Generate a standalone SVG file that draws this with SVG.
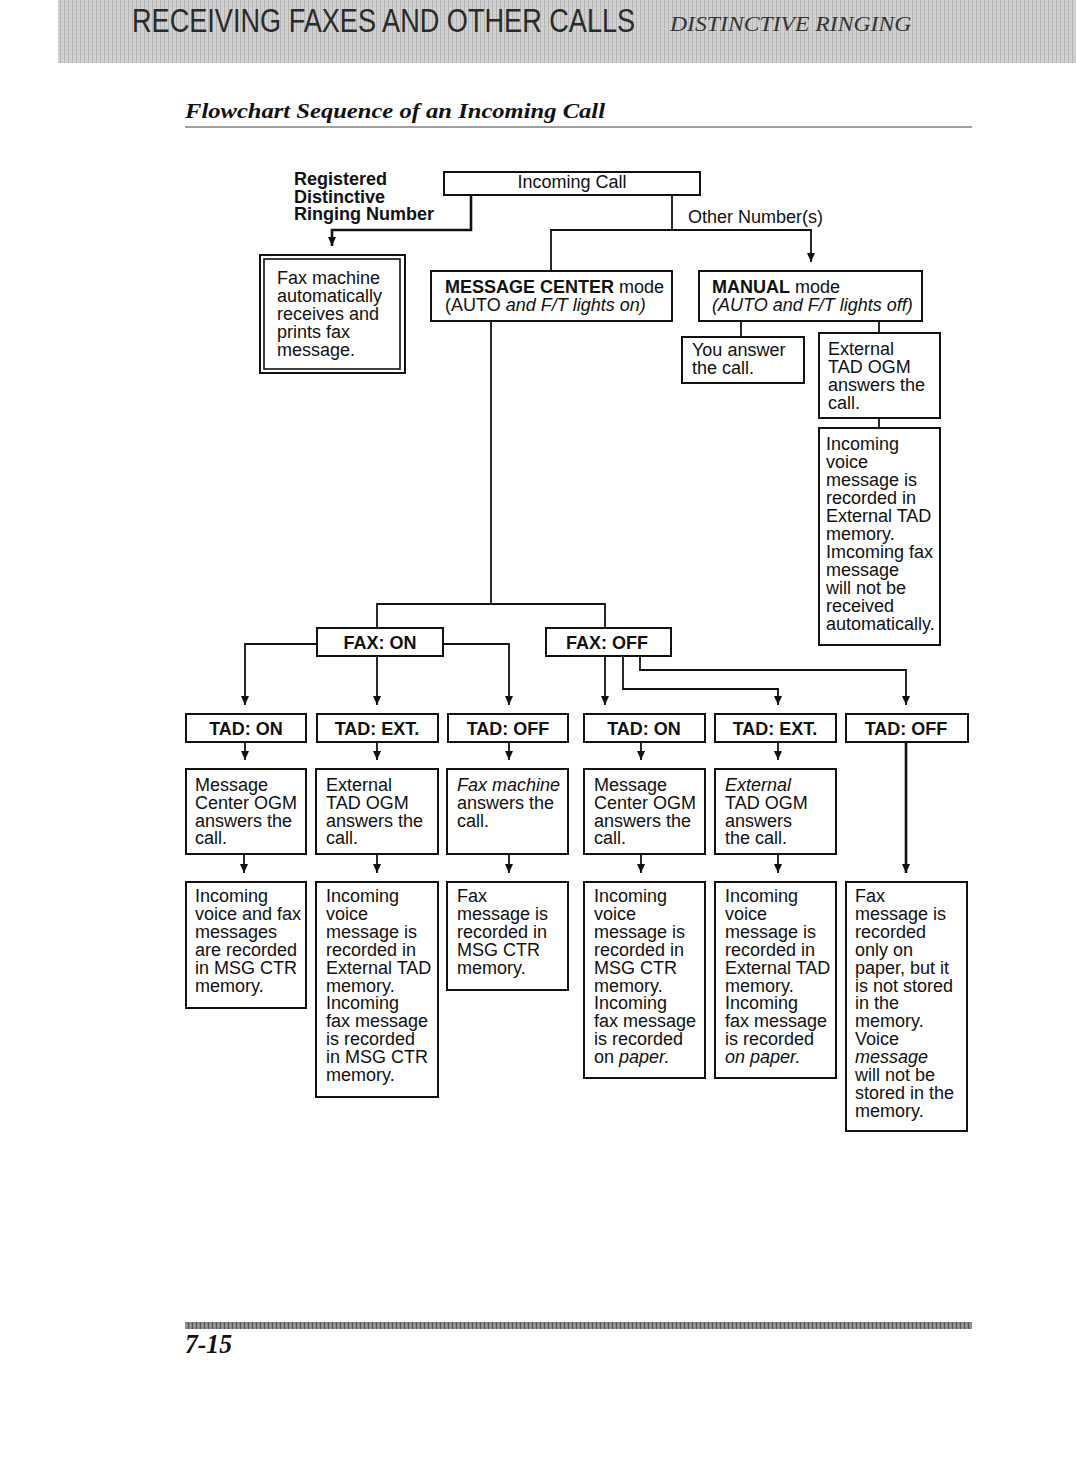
<svg xmlns="http://www.w3.org/2000/svg" width="1076" height="1476" viewBox="0 0 1076 1476">
<defs>
<pattern id="tex" width="4" height="4" patternUnits="userSpaceOnUse">
<rect width="4" height="4" fill="#d2d2d2"/>
<rect x="0" y="0" width="1" height="4" fill="#b4b4b4"/>
<rect x="2" y="2" width="1" height="1" fill="#bcbcbc"/>
</pattern>
<pattern id="tex2" width="4" height="4" patternUnits="userSpaceOnUse">
<rect width="4" height="4" fill="#8a8a8a"/>
<rect x="0" y="0" width="1" height="4" fill="#555"/>
<rect x="2" y="1" width="1" height="1" fill="#bbb"/>
</pattern>
<marker id="arr" markerUnits="userSpaceOnUse" markerWidth="8" markerHeight="9" refX="4" refY="9" orient="0">
<path d="M0,0 L8,0 L4,9 z" fill="#111"/>
</marker>
</defs>
<style>
.box{fill:#fff;stroke:#111;stroke-width:2}
.t{font-family:"Liberation Sans",Arial,sans-serif;font-size:18px;fill:#111}
.b{font-weight:bold}
.c{text-anchor:middle}
.i{font-style:italic}
.conn path{fill:none;stroke:#111;stroke-width:1.8}
.conn .thick{stroke-width:2.6}
</style>

<!-- header -->
<rect x="58" y="0" width="1018" height="63" fill="url(#tex)"/>
<text transform="translate(132,32) scale(0.76,1)" x="0" y="0" font-family="Liberation Sans, Arial, sans-serif" font-size="34" fill="#2a2a2a" textLength="662" lengthAdjust="spacingAndGlyphs">RECEIVING FAXES AND OTHER CALLS</text>
<text transform="translate(670,31) scale(0.85,1)" x="0" y="0" font-family="Liberation Serif, Times New Roman, serif" font-size="21" font-style="italic" fill="#333" textLength="284" lengthAdjust="spacingAndGlyphs">DISTINCTIVE RINGING</text>
<text x="185" y="118" font-family="Liberation Serif, Times New Roman, serif" font-size="22" font-style="italic" font-weight="bold" fill="#111" textLength="420" lengthAdjust="spacingAndGlyphs">Flowchart Sequence of an Incoming Call</text>
<line x1="185" y1="127" x2="972" y2="127" stroke="#444" stroke-width="1.2"/>

<!-- connectors -->
<g id="connectors" class="conn">
<path class="thick" d="M471,196 V230 H332 V246" marker-end="url(#arr)"/>
<path d="M672,196 V230"/>
<path d="M551,271 V230 H811 V262" marker-end="url(#arr)"/>
<path d="M741,321 V337"/>
<path d="M879,321 V333"/>
<path d="M879,418 V428"/>
<path d="M491,321 V604"/>
<path d="M377,628 V604 H605 V628"/>
<path d="M317,644 H245 V705" marker-end="url(#arr)"/>
<path d="M377,656 V705" marker-end="url(#arr)"/>
<path d="M443,644 H509 V705" marker-end="url(#arr)"/>
<path d="M605,656 V705" marker-end="url(#arr)"/>
<path d="M623,656 V689 H778 V705" marker-end="url(#arr)"/>
<path d="M640,656 V670 H906 V705" marker-end="url(#arr)"/>
<path d="M245,742 V760" marker-end="url(#arr)"/>
<path d="M377,742 V760" marker-end="url(#arr)"/>
<path d="M509,742 V760" marker-end="url(#arr)"/>
<path d="M641,742 V760" marker-end="url(#arr)"/>
<path d="M778,742 V760" marker-end="url(#arr)"/>
<path d="M244,854 V873" marker-end="url(#arr)"/>
<path d="M377,854 V873" marker-end="url(#arr)"/>
<path d="M509,854 V873" marker-end="url(#arr)"/>
<path d="M641,854 V873" marker-end="url(#arr)"/>
<path d="M778,854 V873" marker-end="url(#arr)"/>
<path class="thick" d="M906,742 V873" marker-end="url(#arr)"/>
</g>

<!-- nodes -->
<g id="n-registered">
<text class="t b" x="294" y="185">Registered<tspan x="294" dy="17.6">Distinctive</tspan><tspan x="294" dy="17.6">Ringing Number</tspan></text>
</g>
<g id="n-incoming">
<rect class="box" x="444" y="172" width="256" height="23"/>
<text class="t c" x="572" y="188">Incoming Call</text>
</g>
<g id="n-other">
<text class="t" x="688" y="223">Other Number(s)</text>
</g>
<g id="n-faxauto">
<rect class="box" x="260" y="255" width="145" height="118"/>
<rect x="264" y="259" width="136" height="110" fill="none" stroke="#111" stroke-width="1.6"/>
<text class="t" x="277" y="284">Fax machine<tspan x="277" dy="18">automatically</tspan><tspan x="277" dy="18">receives and</tspan><tspan x="277" dy="18">prints fax</tspan><tspan x="277" dy="18">message.</tspan></text>
</g>
<g id="n-msgcenter">
<rect class="box" x="431" y="271" width="241" height="50"/>
<text class="t" x="445" y="293"><tspan class="b">MESSAGE CENTER</tspan> mode</text>
<text class="t" x="445" y="311">(AUTO <tspan class="i">and F/T lights on)</tspan></text>
</g>
<g id="n-manual">
<rect class="box" x="699" y="271" width="223" height="50"/>
<text class="t" x="712" y="293"><tspan class="b">MANUAL</tspan> mode</text>
<text class="t i" x="712" y="311">(AUTO and F/T lights off)</text>
</g>
<g id="n-youanswer">
<rect class="box" x="682" y="337" width="122" height="46"/>
<text class="t" x="692" y="356">You answer<tspan x="692" dy="18">the call.</tspan></text>
</g>
<g id="n-exttad-top">
<rect class="box" x="819" y="333" width="121" height="85"/>
<text class="t" x="828" y="355">External<tspan x="828" dy="18">TAD OGM</tspan><tspan x="828" dy="18">answers the</tspan><tspan x="828" dy="18">call.</tspan></text>
</g>
<g id="n-extrecord">
<rect class="box" x="819" y="428" width="121" height="217"/>
<text class="t" x="826" y="450">Incoming<tspan x="826" dy="18">voice</tspan><tspan x="826" dy="18">message is</tspan><tspan x="826" dy="18">recorded in</tspan><tspan x="826" dy="18">External TAD</tspan><tspan x="826" dy="18">memory.</tspan><tspan x="826" dy="18">Imcoming fax</tspan><tspan x="826" dy="18">message</tspan><tspan x="826" dy="18">will not be</tspan><tspan x="826" dy="18">received</tspan><tspan x="826" dy="18">automatically.</tspan></text>
</g>
<g id="n-faxon">
<rect class="box" x="317" y="628" width="126" height="28"/>
<text class="t b c" x="380" y="649">FAX: ON</text>
</g>
<g id="n-faxoff">
<rect class="box" x="546" y="628" width="125" height="28"/>
<text class="t b c" x="607" y="649">FAX: OFF</text>
</g>

<g id="n-tad1">
<rect class="box" x="186" y="714" width="120" height="28"/>
<text class="t b c" x="246" y="735">TAD: ON</text>
</g>
<g id="n-tad2">
<rect class="box" x="317" y="714" width="121" height="28"/>
<text class="t b c" x="377" y="735">TAD: EXT.</text>
</g>
<g id="n-tad3">
<rect class="box" x="448" y="714" width="120" height="28"/>
<text class="t b c" x="508" y="735">TAD: OFF</text>
</g>
<g id="n-tad4">
<rect class="box" x="584" y="714" width="121" height="28"/>
<text class="t b c" x="644" y="735">TAD: ON</text>
</g>
<g id="n-tad5">
<rect class="box" x="715" y="714" width="121" height="28"/>
<text class="t b c" x="775" y="735">TAD: EXT.</text>
</g>
<g id="n-tad6">
<rect class="box" x="846" y="714" width="122" height="28"/>
<text class="t b c" x="906" y="735">TAD: OFF</text>
</g>

<g id="n-ans1">
<rect class="box" x="186" y="769" width="120" height="85"/>
<text class="t" x="195" y="791">Message<tspan x="195" dy="17.8">Center OGM</tspan><tspan x="195" dy="17.8">answers the</tspan><tspan x="195" dy="17.8">call.</tspan></text>
</g>
<g id="n-ans2">
<rect class="box" x="316" y="769" width="122" height="85"/>
<text class="t" x="326" y="791">External<tspan x="326" dy="17.8">TAD OGM</tspan><tspan x="326" dy="17.8">answers the</tspan><tspan x="326" dy="17.8">call.</tspan></text>
</g>
<g id="n-ans3">
<rect class="box" x="447" y="769" width="121" height="85"/>
<text class="t" x="457" y="791"><tspan class="i">Fax machine</tspan><tspan x="457" dy="17.8">answers the</tspan><tspan x="457" dy="17.8">call.</tspan></text>
</g>
<g id="n-ans4">
<rect class="box" x="584" y="769" width="121" height="85"/>
<text class="t" x="594" y="791">Message<tspan x="594" dy="17.8">Center OGM</tspan><tspan x="594" dy="17.8">answers the</tspan><tspan x="594" dy="17.8">call.</tspan></text>
</g>
<g id="n-ans5">
<rect class="box" x="715" y="769" width="121" height="85"/>
<text class="t" x="725" y="791"><tspan class="i">External</tspan><tspan x="725" dy="17.8">TAD OGM</tspan><tspan x="725" dy="17.8">answers</tspan><tspan x="725" dy="17.8">the call.</tspan></text>
</g>

<g id="n-res1">
<rect class="box" x="186" y="882" width="120" height="126"/>
<text class="t" x="195" y="902">Incoming<tspan x="195" dy="17.9">voice and fax</tspan><tspan x="195" dy="17.9">messages</tspan><tspan x="195" dy="17.9">are recorded</tspan><tspan x="195" dy="17.9">in MSG CTR</tspan><tspan x="195" dy="17.9">memory.</tspan></text>
</g>
<g id="n-res2">
<rect class="box" x="316" y="882" width="122" height="215"/>
<text class="t" x="326" y="902">Incoming<tspan x="326" dy="17.9">voice</tspan><tspan x="326" dy="17.9">message is</tspan><tspan x="326" dy="17.9">recorded in</tspan><tspan x="326" dy="17.9">External TAD</tspan><tspan x="326" dy="17.9">memory.</tspan><tspan x="326" dy="17.9">Incoming</tspan><tspan x="326" dy="17.9">fax message</tspan><tspan x="326" dy="17.9">is recorded</tspan><tspan x="326" dy="17.9">in MSG CTR</tspan><tspan x="326" dy="17.9">memory.</tspan></text>
</g>
<g id="n-res3">
<rect class="box" x="447" y="882" width="121" height="108"/>
<text class="t" x="457" y="902">Fax<tspan x="457" dy="17.9">message is</tspan><tspan x="457" dy="17.9">recorded in</tspan><tspan x="457" dy="17.9">MSG CTR</tspan><tspan x="457" dy="17.9">memory.</tspan></text>
</g>
<g id="n-res4">
<rect class="box" x="584" y="882" width="121" height="196"/>
<text class="t" x="594" y="902">Incoming<tspan x="594" dy="17.9">voice</tspan><tspan x="594" dy="17.9">message is</tspan><tspan x="594" dy="17.9">recorded in</tspan><tspan x="594" dy="17.9">MSG CTR</tspan><tspan x="594" dy="17.9">memory.</tspan><tspan x="594" dy="17.9">Incoming</tspan><tspan x="594" dy="17.9">fax message</tspan><tspan x="594" dy="17.9">is recorded</tspan><tspan x="594" dy="17.9">on <tspan class="i">paper.</tspan></tspan></text>
</g>
<g id="n-res5">
<rect class="box" x="715" y="882" width="121" height="196"/>
<text class="t" x="725" y="902">Incoming<tspan x="725" dy="17.9">voice</tspan><tspan x="725" dy="17.9">message is</tspan><tspan x="725" dy="17.9">recorded in</tspan><tspan x="725" dy="17.9">External TAD</tspan><tspan x="725" dy="17.9">memory.</tspan><tspan x="725" dy="17.9">Incoming</tspan><tspan x="725" dy="17.9">fax message</tspan><tspan x="725" dy="17.9">is recorded</tspan><tspan x="725" dy="17.9" class="i">on paper.</tspan></text>
</g>
<g id="n-res6">
<rect class="box" x="846" y="882" width="121" height="249"/>
<text class="t" x="855" y="902">Fax<tspan x="855" dy="17.9">message is</tspan><tspan x="855" dy="17.9">recorded</tspan><tspan x="855" dy="17.9">only on</tspan><tspan x="855" dy="17.9">paper, but it</tspan><tspan x="855" dy="17.9">is not stored</tspan><tspan x="855" dy="17.9">in the</tspan><tspan x="855" dy="17.9">memory.</tspan><tspan x="855" dy="17.9">Voice</tspan><tspan x="855" dy="17.9" class="i">message</tspan><tspan x="855" dy="17.9">will not be</tspan><tspan x="855" dy="17.9">stored in the</tspan><tspan x="855" dy="17.9">memory.</tspan></text>
</g>

<!-- footer -->
<rect x="185" y="1322" width="787" height="7" fill="url(#tex2)"/>
<text x="185" y="1353" font-family="Liberation Serif, Times New Roman, serif" font-size="28" font-style="italic" font-weight="bold" fill="#111" textLength="47" lengthAdjust="spacingAndGlyphs">7-15</text>
</svg>
